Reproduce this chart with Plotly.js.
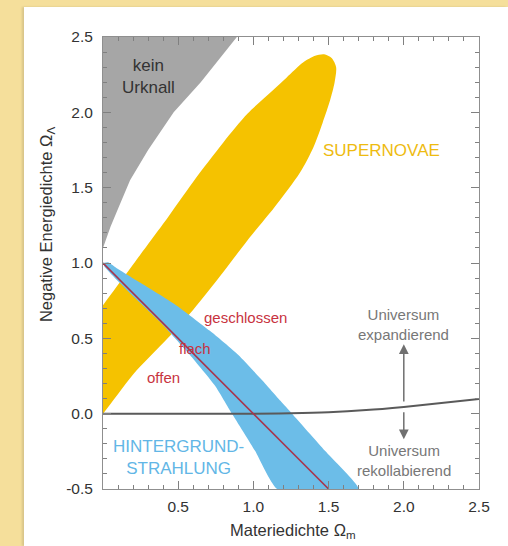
<!DOCTYPE html>
<html>
<head>
<meta charset="utf-8">
<script src="https://cdn.plot.ly/plotly-3.0.1.min.js"></script>
<style>
  html, body { margin: 0; padding: 0; background: #f5df9b; width: 508px; height: 546px; overflow: hidden; }
  #panel { position: absolute; left: 24px; top: 7px; width: 484px; height: 539px; background: #fff; box-shadow: -2px 0 2px rgba(0,0,0,0.12); }
  #chart { width: 484px; height: 539px; }
</style>
</head>
<body>
<div id="panel"><div id="chart"></div></div>
<script>
// Region "kein Urknall" (no big bang), boundary
const noBangX = [0, 0.05, 0.10, 0.18, 0.30, 0.47, 0.65, 0.89, 0];
const noBangY = [1.10, 1.24, 1.36, 1.55, 1.75, 2.00, 2.20, 2.50, 2.50];

// Supernova confidence region (outline continues past Omega_m = 0 and is clipped by the axis)
const snX = [-0.20, 0, 0.20, 0.43, 0.60, 0.80, 0.96, 1.14, 1.31, 1.40, 1.46, 1.51, 1.54, 1.55, 1.52, 1.47, 1.41, 1.33, 1.22, 1.10, 0.96, 0.80, 0.60, 0.40, 0.20, 0, -0.20, -0.35, -0.42, -0.35];
const snY = [-0.22, 0, 0.26, 0.50, 0.69, 0.94, 1.15, 1.37, 1.60, 1.77, 1.93, 2.08, 2.20, 2.30, 2.36, 2.385, 2.375, 2.33, 2.23, 2.12, 1.99, 1.80, 1.54, 1.26, 0.99, 0.72, 0.45, 0.20, -0.05, -0.22];

// CMB (Hintergrundstrahlung) region
const cmbX = [0.0, 0.033, 0.10, 0.246, 0.479, 0.711, 0.90, 1.06, 1.18, 1.257, 1.476, 1.702, 1.164, 1.011, 0.858, 0.745, 0.578, 0.379, 0.18, 0.06, 0.01];
const cmbY = [1.0, 1.005, 0.96, 0.87, 0.725, 0.55, 0.39, 0.22, 0.085, 0.0, -0.246, -0.505, -0.505, -0.246, 0.0, 0.186, 0.39, 0.61, 0.80, 0.92, 0.975];

// flat universe line
const flatX = [0, 1.5];
const flatY = [1, -0.5];

// expansion / recollapse boundary
const boundX = [0, 0.5, 1.0, 1.25, 1.5, 1.75, 2.0, 2.25, 2.5];
const boundY = [0, 0, 0, 0.003, 0.01, 0.024, 0.045, 0.07, 0.098];

// tick label aliases
const xTickText = {'0.0': ' '};
const yTickText = {'\u22120.5': '-0.5'};

const FONT = 'Liberation Sans, Arial, Helvetica, sans-serif';

const traces = [
  { x: noBangX, y: noBangY, mode: 'lines', fill: 'toself', fillcolor: '#a6a6a6', line: {width: 0}, hoverinfo: 'skip' },
  { x: snX, y: snY, mode: 'lines', fill: 'toself', fillcolor: '#f5c200', line: {width: 0, shape: 'spline', smoothing: 0.8}, hoverinfo: 'skip' },
  { x: cmbX, y: cmbY, mode: 'lines', fill: 'toself', fillcolor: '#6cbde8', line: {width: 0, shape: 'spline', smoothing: 0.5}, hoverinfo: 'skip' },
  { x: boundX, y: boundY, mode: 'lines', line: {color: '#5a5a5a', width: 2, shape: 'spline'}, hoverinfo: 'skip' },
  { x: flatX, y: flatY, mode: 'lines', line: {color: '#a8344c', width: 1.6}, hoverinfo: 'skip' }
];

function txt(x, y, text, color, size) {
  return { x: x, y: y, xref: 'x', yref: 'y', text: text, showarrow: false,
           font: {family: FONT, size: size, color: color}, xanchor: 'center', yanchor: 'middle' };
}
function arrow(x, y, ax, ay) {
  return { x: x, y: y, ax: ax, ay: ay, xref: 'x', yref: 'y', axref: 'x', ayref: 'y', text: '',
           showarrow: true, arrowhead: 2, arrowsize: 1.3, arrowwidth: 1.5, arrowcolor: '#707070' };
}

const annotations = [
  txt(0.30, 2.24, 'kein<br>Urknall', '#333333', 17),
  txt(1.85, 1.75, 'SUPERNOVAE', '#eebb10', 17),
  txt(0.95, 0.64, 'geschlossen', '#c8333f', 15),
  txt(0.61, 0.43, 'flach', '#c8333f', 15),
  txt(0.40, 0.24, 'offen', '#c8333f', 15),
  txt(2.0, 0.59, 'Universum<br>expandierend', '#777777', 15),
  txt(2.0, -0.31, 'Universum<br>rekollabierend', '#777777', 15),
  txt(0.50, -0.29, 'HINTERGRUND-<br>STRAHLUNG', '#62b6e6', 17),
  arrow(2.0, 0.46, 2.0, 0.07),
  arrow(2.0, -0.17, 2.0, 0.02),
  { xref: 'paper', yref: 'paper', x: 0.505, y: -0.093, text: 'Materiedichte Ω<sub>m</sub>', showarrow: false,
    font: {family: FONT, size: 16.5, color: '#333'}, xanchor: 'center', yanchor: 'middle' },
  { xref: 'paper', yref: 'paper', x: -0.149, y: 0.586, text: 'Negative Energiedichte Ω<sub>Λ</sub>', showarrow: false,
    textangle: -90, font: {family: FONT, size: 16.5, color: '#333'}, xanchor: 'center', yanchor: 'middle' }
];

const axisCommon = {
  showgrid: false, zeroline: false, showline: true, linecolor: '#8f8f8f', linewidth: 1,
  mirror: 'ticks', ticks: 'inside', ticklen: 8, tickcolor: '#808080', tickwidth: 1,
  tickmode: 'linear', tick0: 0, dtick: 0.5, tickformat: '.1f',
  tickfont: {family: FONT, size: 15.5, color: '#333'},
  minor: {tickmode: 'linear', tick0: 0, dtick: 0.1, ticks: 'inside', ticklen: 4, tickcolor: '#808080', tickwidth: 1}
};

const layout = {
  width: 484, height: 539,
  margin: {l: 79, r: 29, t: 30, b: 57},
  paper_bgcolor: '#ffffff', plot_bgcolor: '#ffffff',
  showlegend: false,
  xaxis: Object.assign({}, axisCommon, { range: [0, 2.5], labelalias: xTickText, ticklabelstandoff: 3 }),
  yaxis: Object.assign({}, axisCommon, { range: [-0.5, 2.5], labelalias: yTickText, ticklabelstandoff: 6 }),
  annotations: annotations
};

Plotly.newPlot('chart', traces, layout, {staticPlot: true, displayModeBar: false});
</script>
</body>
</html>
